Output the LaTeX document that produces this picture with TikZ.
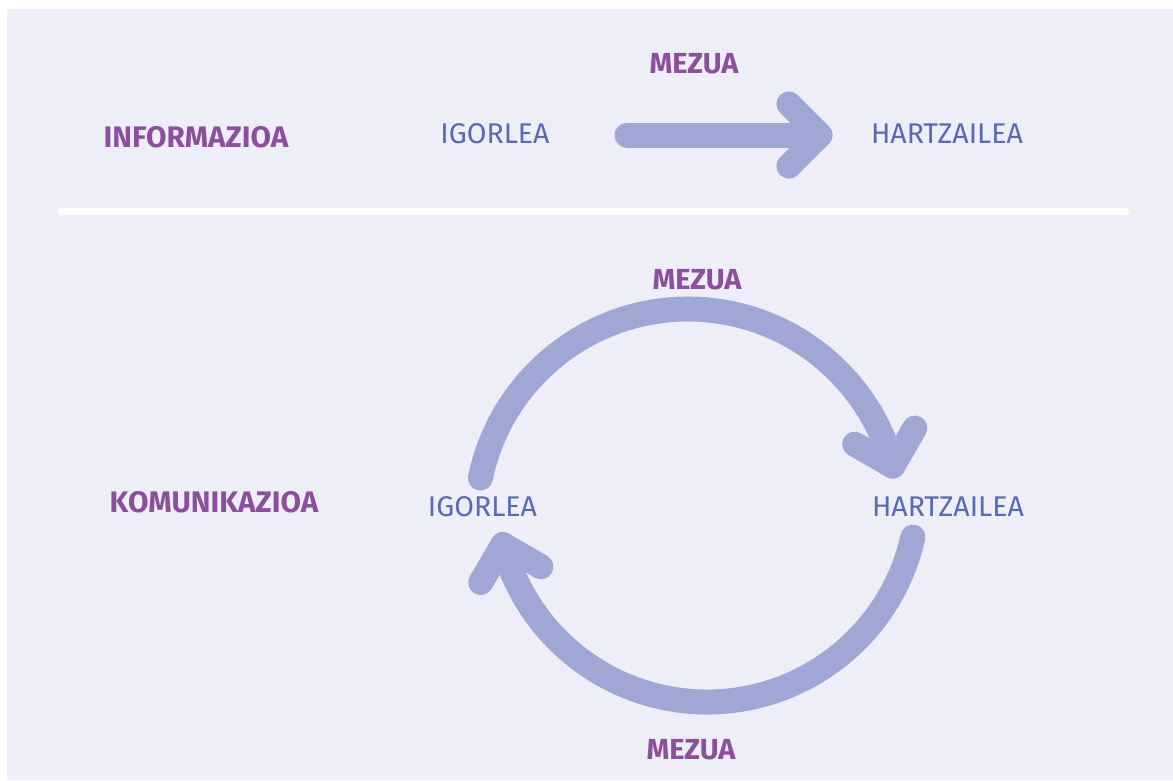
\documentclass[tikz,border=0pt]{standalone}
\usepackage{fontspec}
\setmainfont{Fira Sans}
\usetikzlibrary{calc}
\begin{document}
\begin{tikzpicture}[x=1pt,y=1pt,
  arrowline/.style={draw=arrcol,line width=25pt,line cap=round,line join=round},
  title/.style={text=titlecol,font=\fontsize{29.7}{30}\selectfont\bfseries,inner sep=0pt},
  actor/.style={text=actorcol,font=\fontsize{28.5}{30}\selectfont,inner sep=0pt},
  msg/.style={text=titlecol,font=\fontsize{29}{29}\selectfont\bfseries,inner sep=0pt}]
\definecolor{bgcol}{RGB}{238,238,248}
\definecolor{arrcol}{RGB}{161,167,212}
\definecolor{actorcol}{RGB}{88,106,180}
\definecolor{titlecol}{RGB}{139,80,155}
\useasboundingbox (0,0) rectangle (1173,-780);
\fill[bgcol] (7,-9) rectangle (1173,-780);
% separator
\draw[white,line width=7pt,line cap=round] (61,-211) coordinate (sepL) -- (1126,-211) coordinate (sepR);
% texts
\node[title] (info) at (196,-137.5) {INFORMAZIOA};
\node[actor] (ig1) at (495,-133.5) {IGORLEA};
\node[actor] (ha1) at (947,-133.5) {HARTZAILEA};
\node[msg] (m1) at (694,-63.5) {MEZUA};
\node[title] (komu) at (214,-502) {KOMUNIKAZIOA};
\node[actor] (ig2) at (482.5,-507) {IGORLEA};
\node[actor] (ha2) at (948,-507) {HARTZAILEA};
\node[msg] (m2) at (697,-280) {MEZUA};
\node[msg] (m3) at (691,-750) {MEZUA};
% top straight arrow
\coordinate (s1) at (627,-135);
\coordinate (t1) at (820,-135);
\draw[arrowline] (s1) -- (t1);
\draw[arrowline] ($(t1)+(135:44)$) -- (t1) -- ($(t1)+(-135:44)$);
% upper arc arrow: center (688,-521), r=212
\coordinate (c1) at (688,-521);
\coordinate (a1s) at ($(c1)+(168.3:212)$);
\coordinate (a1t) at ($(c1)+(15:212)$);
\draw[arrowline] (a1s) arc[start angle=168.3,end angle=15,radius=212];
\draw[arrowline] ($(a1t)+(150:44)$) -- (a1t) -- ($(a1t)+(60:44)$);
% lower arc arrow: center (707,-491), r=211
\coordinate (c2) at (707,-491);
\coordinate (a2s) at ($(c2)+(-12.6:211)$);
\coordinate (a2t) at ($(c2)+(-165.3:211)$);
\draw[arrowline] (a2s) arc[start angle=-12.6,end angle=-165.3,radius=211];
\draw[arrowline] ($(a2t)+(-30.3:44)$) -- (a2t) -- ($(a2t)+(-120.3:44)$);
\end{tikzpicture}
\end{document}
